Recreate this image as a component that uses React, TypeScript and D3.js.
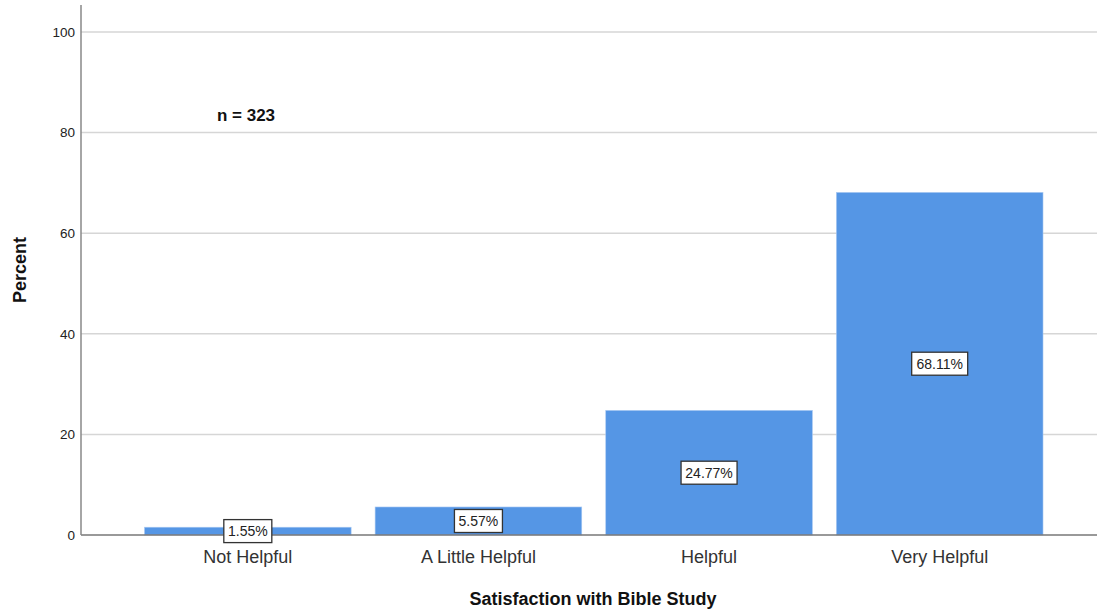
import React from "react";
import * as d3 from "d3";

const categories = ["Not Helpful", "A Little Helpful", "Helpful", "Very Helpful"];
const percents = [1.55, 5.57, 24.77, 68.11];
const yTicks = [0, 20, 40, 60, 80, 100];
const sampleNote = "n = 323";
const xTitle = "Satisfaction with Bible Study";
const yTitle = "Percent";

const W = 1099;
const H = 613;
const FONT = "Arial, 'Liberation Sans', sans-serif";

export default function App() {
  const x0 = 81;
  const x1 = 1097;
  const y = d3.scaleLinear().domain([0, 100]).range([535, 32]);
  const x = d3
    .scaleBand<string>()
    .domain(categories)
    .range([132.5, 1055])
    .paddingInner(0.104)
    .paddingOuter(0.052);

  return (
    <svg
      width={W}
      height={H}
      style={{ position: "absolute", left: 0, top: 0, background: "#fff" }}
      fontFamily={FONT}
    >
      {yTicks.map((t) => (
        <g key={t}>
          {t > 0 && (
            <line x1={x0} x2={x1} y1={y(t)} y2={y(t)} stroke="#d6d6d6" strokeWidth={1.5} />
          )}
          <text x={75} y={y(t)} dy="0.35em" textAnchor="end" fontSize={13.5} fill="#222">
            {t}
          </text>
        </g>
      ))}
      {categories.map((c, i) => {
        const bx = x(c)!;
        const bw = x.bandwidth();
        const top = y(percents[i]);
        const base = y(0);
        return (
          <g key={c}>
            <rect x={bx} y={top} width={bw} height={base - top} fill="#5596e5" stroke="#a9c9f2" strokeWidth={0.6} />
            <text x={bx + bw / 2} y={557} dy="0.35em" textAnchor="middle" fontSize={18} fill="#333">
              {c}
            </text>
          </g>
        );
      })}
      <line x1={x0} x2={x1} y1={y(0)} y2={y(0)} stroke="#777" strokeWidth={1.5} />
      <line x1={x0} x2={x0} y1={5} y2={y(0)} stroke="#888" strokeWidth={1.5} />
      {categories.map((c, i) => {
        const cx = x(c)! + x.bandwidth() / 2;
        const cy = (y(percents[i]) + y(0)) / 2;
        const label = percents[i].toFixed(2) + "%";
        const bwBox = label.length * 8 + 8;
        return (
          <g key={"l" + c}>
            <rect
              x={cx - bwBox / 2}
              y={cy - 11.5}
              width={bwBox}
              height={23}
              fill="#fff"
              stroke="#333"
              strokeWidth={1.3}
            />
            <text x={cx} y={cy} dy="0.36em" textAnchor="middle" fontSize={14} fill="#222">
              {label}
            </text>
          </g>
        );
      })}
      <text x={246} y={115} dy="0.35em" textAnchor="middle" fontSize={17} fontWeight="bold" fill="#111">
        {sampleNote}
      </text>
      <text x={593} y={599} dy="0.35em" textAnchor="middle" fontSize={18} fontWeight="bold" fill="#111">
        {xTitle}
      </text>
      <text
        transform={`translate(20,270) rotate(-90)`}
        dy="0.35em"
        textAnchor="middle"
        fontSize={18}
        fontWeight="bold"
        fill="#111"
      >
        {yTitle}
      </text>
    </svg>
  );
}
